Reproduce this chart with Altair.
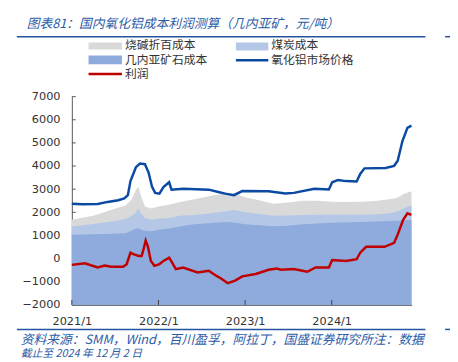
import altair as alt
import pandas as pd

# ---------------- data ----------------
cost_dates = ["2021-01-01", "2021-04-01", "2021-07-01", "2021-08-15", "2021-09-10",
              "2021-09-25", "2021-10-08", "2021-10-20", "2021-11-05", "2021-12-01",
              "2022-01-01", "2022-02-15", "2022-04-01", "2022-06-01", "2022-08-01",
              "2022-10-01", "2022-11-15", "2023-01-01", "2023-03-01", "2023-05-01",
              "2023-07-01", "2023-09-01", "2023-11-01", "2024-01-01", "2024-03-01",
              "2024-05-01", "2024-07-01", "2024-09-01", "2024-10-01", "2024-11-01",
              "2024-12-02"]
ore_cost = [1035, 1050, 1075, 1100, 1200, 1280, 1320, 1250, 1200, 1180,
            1250, 1300, 1390, 1480, 1530, 1580, 1560, 1480, 1440, 1400,
            1420, 1480, 1520, 1550, 1560, 1580, 1600, 1620, 1640, 1660, 1680]
coal_cost = [355, 450, 545, 600, 650, 670, 850, 700, 550, 500,
             470, 460, 460, 400, 420, 450, 539, 520, 490, 450,
             440, 400, 370, 340, 340, 320, 305, 340, 390, 520, 630]
caustic_cost = [284, 350, 530, 600, 700, 950, 950, 750, 500, 490,
                530, 570, 600, 680, 750, 780, 710, 650, 590, 520,
                560, 620, 610, 570, 550, 560, 585, 600, 590, 620, 600]

price_dates = ["2021-01-01", "2021-02-15", "2021-04-20", "2021-06-01", "2021-07-15",
               "2021-08-10", "2021-08-25", "2021-09-05", "2021-09-28", "2021-10-15",
               "2021-11-05", "2021-11-20", "2021-12-05", "2021-12-18", "2022-01-05",
               "2022-01-22", "2022-02-15", "2022-02-25", "2022-04-15", "2022-08-01",
               "2022-09-10", "2022-10-10", "2022-11-15", "2022-12-20", "2023-04-10",
               "2023-06-20", "2023-07-25", "2023-10-20", "2023-12-20", "2024-01-03",
               "2024-01-28", "2024-03-01", "2024-04-15", "2024-04-30", "2024-05-18",
               "2024-08-15", "2024-09-20", "2024-10-05", "2024-10-25", "2024-11-15",
               "2024-12-02"]
price = [2370, 2350, 2360, 2450, 2520, 2600, 2740, 3350, 3950, 4110,
         4080, 3730, 3100, 2840, 2810, 3090, 3300, 2980, 3020, 2980,
         2880, 2810, 2740, 2920, 2910, 2810, 2840, 3020, 2990, 3300,
         3400, 3350, 3330, 3660, 3900, 3915, 4010, 4230, 5080, 5650, 5745]

profit_dates = ["2021-01-01", "2021-02-25", "2021-04-20", "2021-05-20", "2021-06-15",
                "2021-08-05", "2021-08-20", "2021-09-05", "2021-09-20", "2021-10-10",
                "2021-10-22", "2021-10-30", "2021-11-08", "2021-11-17", "2021-11-30",
                "2021-12-15", "2022-01-05", "2022-01-22", "2022-02-15", "2022-03-01",
                "2022-03-15", "2022-04-15", "2022-06-15", "2022-08-01", "2022-09-01",
                "2022-09-25", "2022-10-20", "2022-11-20", "2022-12-20", "2023-02-15",
                "2023-04-10", "2023-05-15", "2023-06-01", "2023-07-25", "2023-09-20",
                "2023-10-25", "2023-12-20", "2024-01-03", "2024-03-01", "2024-04-15",
                "2024-04-30", "2024-05-25", "2024-08-10", "2024-09-20", "2024-10-05",
                "2024-10-28", "2024-11-15", "2024-12-02"]
profit = [-270, -200, -383, -300, -355, -355, -240, 255, 184, 113,
          113, 397, 780, 539, -99, -312, -241, -99, 43, -200,
          -454, -383, -596, -525, -738, -879, -1064, -950, -766, -667,
          -482, -426, -480, -454, -567, -383, -383, -57, -99, -28,
          255, 511, 511, 681, 1035, 1674, 1957, 1887]

y_ticks = [-2000, -1000, 0, 1000, 2000, 3000, 4000, 5000, 6000, 7000]
x_ticks = ["2021-01-01", "2022-01-01", "2023-01-01", "2024-01-01"]

title_text = "图表81：国内氧化铝成本利润测算（几内亚矿，元/吨）"
source_line1 = "资料来源：SMM，Wind，百川盈孚，阿拉丁，国盛证券研究所注：数据"
source_line2 = "截止至 2024 年 12 月 2 日"
legend_names = ["烧碱折百成本", "煤炭成本", "几内亚矿石成本", "氧化铝市场价格", "利润"]

# ---------------- frames ----------------
cost = pd.DataFrame({"date": pd.to_datetime(cost_dates), "ore": ore_cost,
                     "coal": coal_cost, "caustic": caustic_cost})
cost["ore_top"] = cost["ore"]
cost["coal_top"] = cost["ore"] + cost["coal"]
cost["total_top"] = cost["coal_top"] + cost["caustic"]
price_df = pd.DataFrame({"date": pd.to_datetime(price_dates), "v": price})
profit_df = pd.DataFrame({"date": pd.to_datetime(profit_dates), "v": profit})

CJK = "Noto Sans CJK SC"
BLUE_TXT = "#2B5CA8"
C_GRAY, C_LIGHT, C_DARK = "#D9D9D9", "#B4C7E7", "#8FAADC"
C_PRICE, C_PROFIT = "#0B4AA2", "#C00000"

xscale = alt.Scale(domain=["2021-01-01", "2024-12-03"])
yscale = alt.Scale(domain=[-2000, 7000], nice=False)

X_AX = alt.Axis(values=[pd.Timestamp(d).isoformat() for d in x_ticks],
                labelExpr="timeFormat(datum.value, '%Y') + '/1'",
                ticks=False, grid=False, domainColor="#595959",
                labelFont="DejaVu Sans", labelFontSize=11.5, labelColor="#333333",
                labelPadding=11, title=None, labelFlush=False, labelOverlap=False)
Y_AX = alt.Axis(values=y_ticks, format="d", ticks=False, grid=False,
                domainColor="#595959", labelOverlap=False,
                labelFont="DejaVu Sans", labelFontSize=11.5, labelColor="#333333",
                labelPadding=12, title=None)


def X():
    return alt.X("date:T", scale=xscale, axis=X_AX)


def Y(field):
    return alt.Y(field, scale=yscale, axis=Y_AX)


base = alt.Chart(cost)

ytick_df = pd.DataFrame({"v": y_ticks})
yticks = alt.Chart(ytick_df).mark_rule(color="#595959", strokeWidth=1).encode(
    y=Y("v:Q"), x=alt.value(0), x2=alt.value(4))

area_gray = base.mark_area(color=C_GRAY).encode(
    x=X(), y=Y("total_top:Q"), y2=alt.datum(-2000))
area_light = base.mark_area(color=C_LIGHT).encode(
    x=X(), y=Y("coal_top:Q"), y2=alt.datum(-2000))
area_dark = base.mark_area(color=C_DARK).encode(
    x=X(), y=Y("ore_top:Q"), y2=alt.datum(-2000))

price_line = alt.Chart(price_df).mark_line(color=C_PRICE, strokeWidth=2.5).encode(
    x=X(), y=Y("v:Q"))
profit_line = alt.Chart(profit_df).mark_line(color=C_PROFIT, strokeWidth=2.5).encode(
    x=X(), y=Y("v:Q"))

xtick_df = pd.DataFrame({"date": pd.to_datetime(x_ticks)})
xticks = alt.Chart(xtick_df).mark_rule(color="#404040", strokeWidth=1).encode(
    x=X(), y=alt.value(212), y2=alt.value(207))

# ---------------- decorations (title, legend, source) ----------------
def txt(s, x, y, size=12, color="#333333", style="normal", font=CJK):
    return alt.Chart(pd.DataFrame({"t": [s]})).mark_text(
        align="left", baseline="middle", fontSize=size, color=color,
        fontStyle=style, font=font).encode(text="t:N", x=alt.value(x), y=alt.value(y))

def rect(x1, x2, y1, y2, color):
    return alt.Chart(pd.DataFrame({"a": [0]})).mark_rect(color=color).encode(
        x=alt.value(x1), x2=alt.value(x2), y=alt.value(y1), y2=alt.value(y2))

def hline(x1, x2, y, color, w):
    return alt.Chart(pd.DataFrame({"a": [0]})).mark_rule(color=color, strokeWidth=w).encode(
        x=alt.value(x1), x2=alt.value(x2), y=alt.value(y))

deco = [
    txt(title_text, -46, -74, size=13, color=BLUE_TXT, style="italic"),
    hline(-56, 360, -61, "#2454A0", 1.5),
    hline(380, 390, -61, "#2454A0", 1.5),
    rect(17, 51, -55, -48, C_GRAY), txt(legend_names[0], 54, -52),
    rect(167, 200, -55, -47, C_LIGHT), txt(legend_names[1], 203, -52),
    rect(17, 51, -42, -33, C_DARK), txt(legend_names[2], 54, -37),
    hline(167, 200, -37, C_PRICE, 2.5), txt(legend_names[3], 203, -37),
    hline(17, 51, -23, C_PROFIT, 2.5), txt(legend_names[4], 54, -23),
    hline(-56, 360, 237, "#2454A0", 1.5),
    hline(380, 390, 237, "#2454A0", 1.5),
    txt(source_line1, -52, 248, size=13, color=BLUE_TXT, style="italic"),
    txt(source_line2, -52, 262, size=11, color=BLUE_TXT, style="italic"),
]

chart = alt.layer(
    yticks, area_gray, area_light, area_dark, price_line, profit_line, xticks, *deco
).properties(
    width=346, height=212,
    autosize=alt.AutoSizeParams(type="none"),
    padding={"left": 65, "top": 87, "right": 39, "bottom": 60},
).configure_view(stroke=None)

chart.save("out.html", embed_options={"renderer": "svg", "actions": False})
